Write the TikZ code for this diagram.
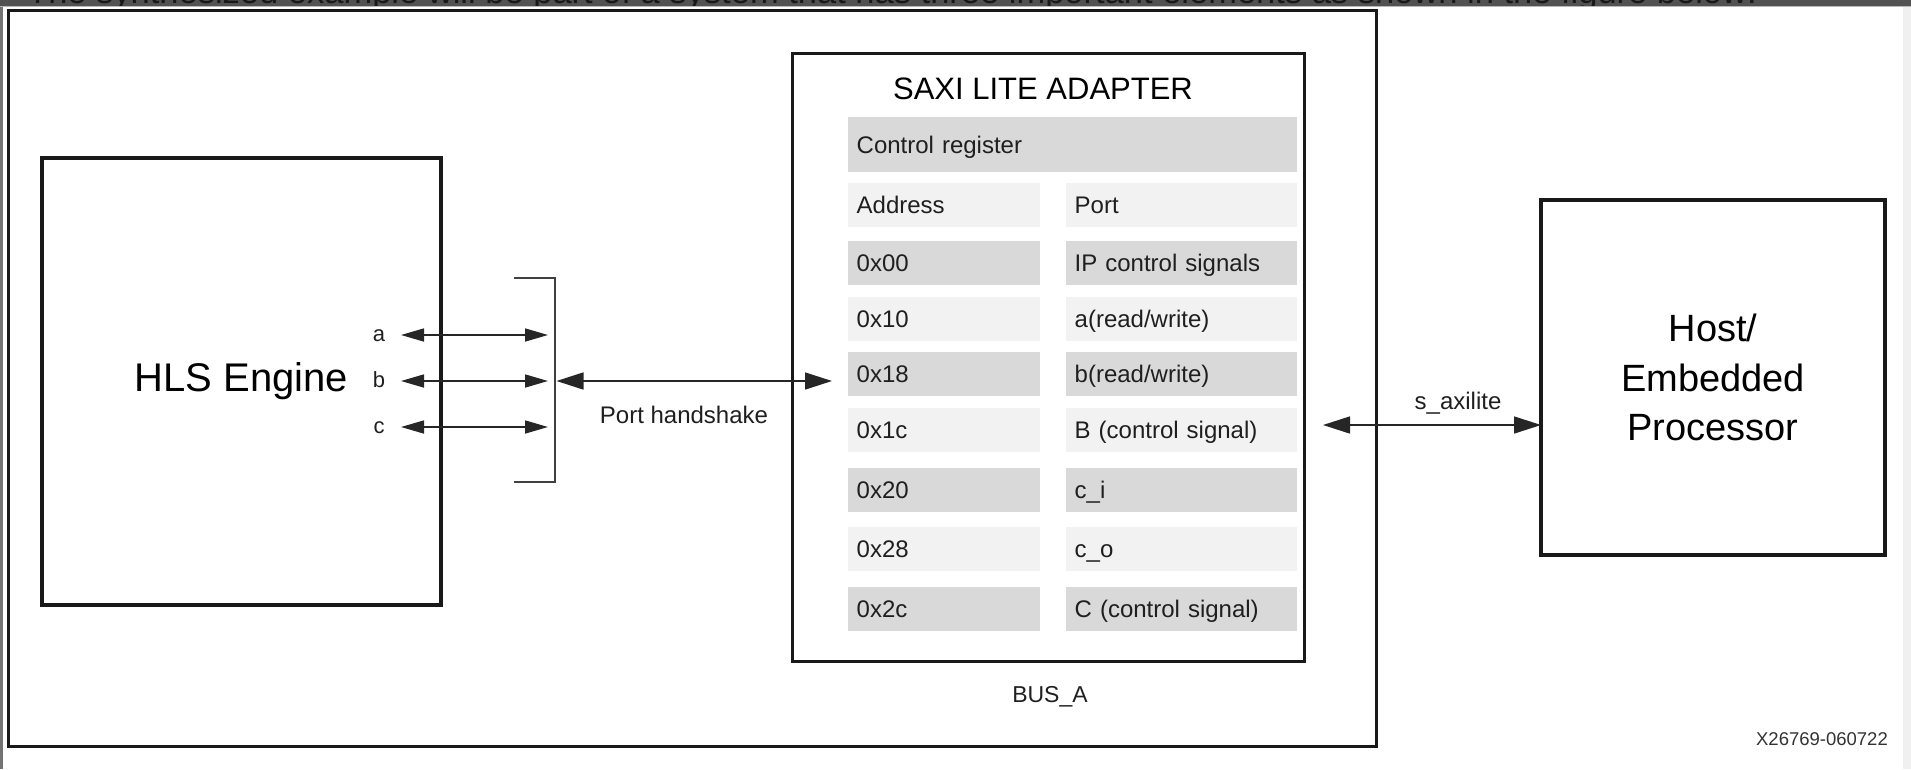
\documentclass[tikz,border=0pt]{standalone}
\usepackage{fontspec}
\setmainfont{Liberation Sans}
\usetikzlibrary{arrows.meta}

\tikzset{
  box/.style={draw=black!90, line width=3.5pt, inner sep=0pt, outer sep=0pt},
  cell/.style={anchor=north west, inner xsep=8.5pt, inner ysep=0pt, minimum height=43.5pt,
    text height=17pt, text depth=0pt, align=left, font=\fontsize{24}{28}\selectfont, text=black!88},
  rowdark/.style={fill=black!15},
  rowlight/.style={fill=black!5},
  sig/.style={anchor=base, inner sep=0pt, font=\fontsize{22}{26}\selectfont, text=black!88},
  small arrow/.style={{Triangle[length=23pt,width=13pt]}-{Triangle[length=23pt,width=13pt]},
    line width=1.6pt, black!85},
  big arrow/.style={{Triangle[length=27pt,width=17pt]}-{Triangle[length=27pt,width=17pt]},
    line width=1.6pt, black!85},
}

\begin{document}
\begin{tikzpicture}[x=1pt,y=-1pt]
  \useasboundingbox (0,0) rectangle (1911,769);
  \begin{scope}
    \clip (0,0) rectangle (1911,5.5);
    \fill[black!68] (0,0) rectangle (1911,5.5);
    \node[anchor=base west, inner sep=0pt, font=\fontsize{34.5}{40}\selectfont, text=black!90] (intro) at (27,3.5)
      {The synthesized example will be part of a system that has three important elements as shown in the figure below:};
  \end{scope}
  \fill[black!28] (0,5.5) rectangle (1911,7);
  \fill[black!55] (0,7) rectangle (2.7,769);
  \fill[black!6] (1903,7) rectangle (1911,769);

  \node[box, line width=3pt, minimum width=1368pt, minimum height=736pt] (frame) at (692.5,378.5) {};
  \node[box, minimum width=399pt, minimum height=447pt, font=\fontsize{40}{48}\selectfont] (hls) at (241.5,381.5) {HLS Engine};
  \node[box, line width=3pt, minimum width=512pt, minimum height=608pt] (saxi) at (1048,357) {};
  \node[box, minimum width=344pt, minimum height=355pt, align=center, font=\fontsize{38}{49.5}\selectfont] (host) at (1713,377.5)
    {Host/\\Embedded\\Processor};

  \node[anchor=base, inner sep=0pt, font=\fontsize{31}{36}\selectfont] (title) at (1043,99) {SAXI LITE ADAPTER};
  \node[cell, rowdark, text width=432pt, minimum height=55pt] (creg) at (848,117) {Control register};
  \foreach \y/\addr/\port/\tone [count=\i] in {183/Address/Port/rowlight, 241/0x00/IP control signals/rowdark,
      297/0x10/{a(read/write)}/rowlight, 352/0x18/{b(read/write)}/rowdark, 408/0x1c/B (control signal)/rowlight,
      468/0x20/c\_i/rowdark, 527/0x28/c\_o/rowlight, 587/0x2c/C (control signal)/rowdark}{
    \node[cell, \tone, text width=175pt] (ad\i) at (848,\y) {\addr};
    \node[cell, \tone, text width=214pt] (pt\i) at (1066,\y) {\port};
  }

  \foreach \n/\y in {a/335,b/381,c/427}{
    \node[sig] (l\n) at (379,\y+6.5) {\n};
    \coordinate (s\n) at (401,\y);
    \coordinate (e\n) at (548,\y);
    \draw[small arrow] (s\n) -- (e\n);
  }
  \coordinate (bt) at (514,278);
  \coordinate (bb) at (514,482);
  \coordinate (bm) at (555,381);
  \draw[line width=1.8pt, black!75] (bt) -| (bm) |- (bb);
  \draw[big arrow, shorten <=1.5pt, shorten >=16pt] (bm) -- (bm -| ad4.west);
  \node[sig, font=\fontsize{24}{28}\selectfont] (hs) at (684,423) {Port handshake};

  \coordinate (ax) at (1323,425);
  \draw[big arrow] (ax) -- (ax -| host.west);
  \node[sig, font=\fontsize{24}{28}\selectfont] (axl) at (1458,409) {s\_axilite};
  \node[sig, font=\fontsize{23}{28}\selectfont] (bus) at (1050,702) {BUS\_A};
  \node[anchor=base east, inner sep=0pt, font=\fontsize{18.5}{22}\selectfont, text=black!80] (fig) at (1888,745) {X26769-060722};
\end{tikzpicture}
\end{document}
